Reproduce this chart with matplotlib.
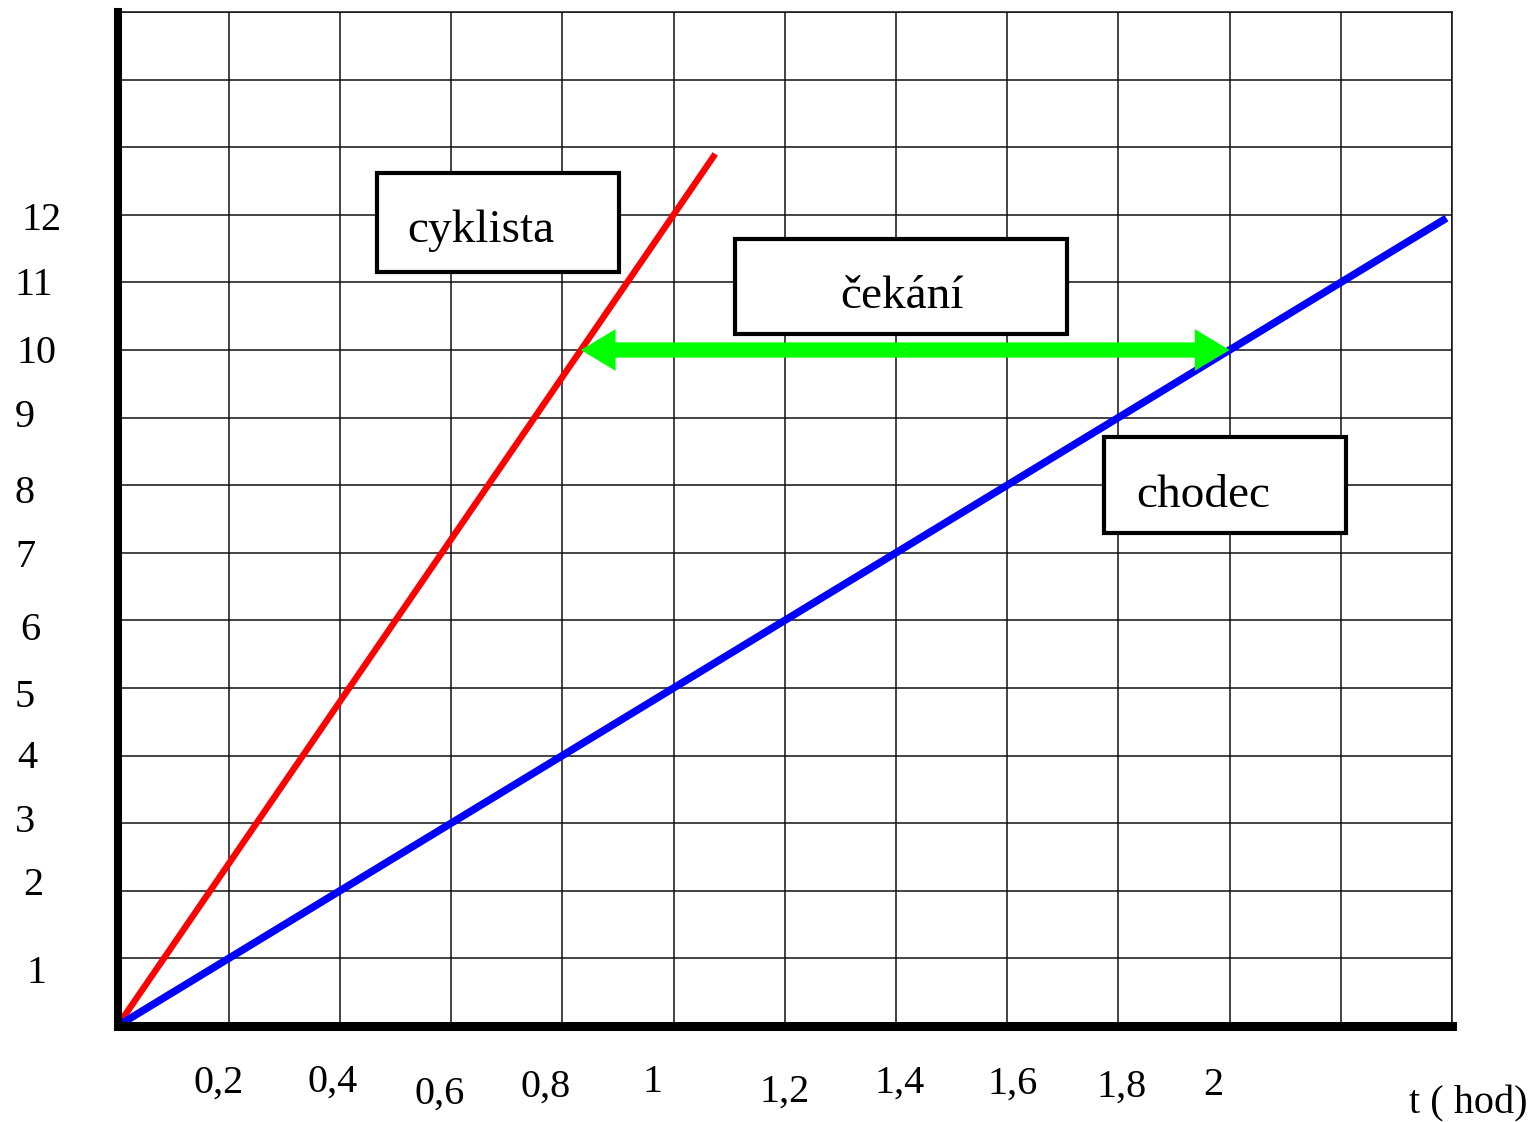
import numpy as np
import matplotlib.pyplot as plt
from matplotlib.patches import Rectangle, FancyArrowPatch

plt.rcParams['font.family'] = ['Liberation Serif', 'DejaVu Serif']

# cyklista (12 km/h) and chodec (5 km/h): t [hod], s [km]
cyklista_t = [0, 1.075]
cyklista_s = [0, 12.9]
chodec_t = [0, 2.39]
chodec_s = [0, 11.95]

# waiting time at 10 km
cekani_od = 10 / 12
cekani_do = 2.0
cekani_s = 10

x_labels = ['0,2', '0,4', '0,6', '0,8', '1', '1,2', '1,4', '1,6', '1,8', '2']
y_labels = ['12', '11', '10', '9', '8', '7', '6', '5', '4', '3', '2', '1']

W, H = 1534, 1122
# hand-placed label positions in pixels (center x, baseline y)
x_label_pos = [(219, 1093), (333, 1092), (440, 1104), (546, 1097), (652, 1092),
               (785, 1102), (900, 1093), (1013, 1094), (1122, 1097), (1213, 1095)]
y_label_pos = [(42, 230), (34, 295), (36, 363), (25, 427), (25, 503), (25, 567),
               (30, 640), (25, 707), (27, 768), (25, 832), (33, 895), (36, 983)]

fig = plt.figure(figsize=(W / 100, H / 100), dpi=100)
ax = fig.add_axes([117.5 / W, 96 / H, (1452 - 117.5) / W, (1026 - 12) / H])
ax.set_xlim(0, 2.4)
ax.set_ylim(0, 15)

# grid
ax.set_xticks(np.arange(0, 2.41, 0.2))
ax.set_yticks(np.arange(0, 15.1, 1))
ax.tick_params(length=0, labelbottom=False, labelleft=False)
ax.grid(True, color='#111111', lw=1.1)
ax.set_axisbelow(True)

for side in ['top', 'right']:
    ax.spines[side].set_linewidth(1.1)
    ax.spines[side].set_color('#111111')
ax.spines['left'].set_linewidth(5.8)
ax.spines['bottom'].set_linewidth(6.5)
ax.spines['left'].set_zorder(5)
ax.spines['bottom'].set_zorder(5)

# lines
ax.plot(cyklista_t, cyklista_s, color='#ff0000', lw=4.6, clip_on=False, zorder=3,
        solid_capstyle='butt')
ax.plot(chodec_t, chodec_s, color='#0000ff', lw=5.4, clip_on=False, zorder=3,
        solid_capstyle='butt')

# waiting arrow: two half arrows from the middle, sharp heads
mid = (cekani_od + cekani_do) / 2
for end in [cekani_od, cekani_do]:
    ax.add_patch(FancyArrowPatch((mid, cekani_s), (end, cekani_s),
                                 arrowstyle='simple,head_length=2.5,head_width=3.0,tail_width=1.1',
                                 mutation_scale=10, color='#00ff00', lw=0,
                                 shrinkA=0, shrinkB=0, zorder=4))

# boxes
boxes = [((0.4665, 11.15), 0.435, 1.47, 'cyklista', 0.5205, 11.60),
         ((1.110, 10.24), 0.597, 1.40, 'čekání', 1.299, 10.62),
         ((1.775, 7.29), 0.435, 1.42, 'chodec', 1.833, 7.68)]
for (x0, y0), bw, bh, txt, tx, ty in boxes:
    ax.add_patch(Rectangle((x0, y0), bw, bh, facecolor='white', edgecolor='black',
                           lw=3, zorder=6))
    ax.text(tx, ty, txt, fontsize=34, ha='left', va='baseline', zorder=7)

# tick labels
for lab, (px, py) in zip(x_labels, x_label_pos):
    fig.text(px / W, 1 - py / H, lab, fontsize=29, ha='center', va='baseline')
for lab, (px, py) in zip(y_labels, y_label_pos):
    fig.text(px / W, 1 - py / H, lab, fontsize=29, ha='center', va='baseline')
fig.text(1468 / W, 1 - 1113 / H, 't ( hod)', fontsize=29, ha='center', va='baseline')

plt.savefig('out.png', dpi=100)
